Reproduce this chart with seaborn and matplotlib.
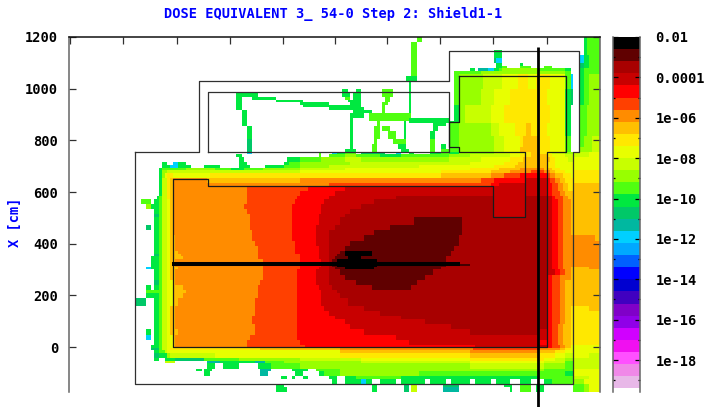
import numpy as np
import matplotlib
matplotlib.use("Agg")
import matplotlib.pyplot as plt
from matplotlib.colors import ListedColormap
import seaborn as sns

# colour bands of the scale, from the top of the colour bar down
band_keys = "abcdefghijklmnopqrstuvwxyzABC."
band_colors = ["#000000", "#600000", "#a80000", "#c80000", "#ff0000", "#ff4000",
               "#ff8c00", "#ffc000", "#ffe800", "#e8ff00", "#c8ff00", "#98ff00",
               "#50ff10", "#00e840", "#00c868", "#00b8a0", "#00d0ff", "#00a8ff",
               "#0060ff", "#0000ff", "#0000d0", "#4000c0", "#8000c8", "#9000e8",
               "#d000ff", "#f010f0", "#ff50ff", "#f088e8", "#e8b8e8", "#ffffff"]
band_top = -2.0
band_width = 0.6

# axis extent
x_start, x_stop = 69, 600
y_start, y_stop = 37, 392
cm_top, cm_bottom = 1200, -174
n_rows, n_cols = 136, 200

y_ticks_cm = [1200, 1000, 800, 600, 400, 200, 0]
x_ticks = [70, 123, 177, 230, 283, 335, 387, 440, 493, 547]
cbar_decades = [-2, -4, -6, -8, -10, -12, -14, -16, -18]
cbar_labels = ["0.01", "0.0001", "1e-06", "1e-08", "1e-10", "1e-12", "1e-14", "1e-16", "1e-18"]

# dose field: each row band ends at row_end, and each
# token is a colour band key plus the x where that run stops
row_end = [43, 51, 55, 58, 62, 66, 68, 71, 74, 77, 81, 88, 90, 93, 96, 98.5, 101, 104,
           106.5, 109, 112, 114, 117, 119.5, 122, 126, 132, 135, 138, 144, 147, 150, 152,
           155, 158, 162, 165, 168, 171, 174, 177, 179, 183, 186, 190, 195, 200, 205,
           210, 215, 217, 225, 230, 235, 240, 245, 250, 253, 256, 260, 266, 270, 275,
           280, 285, 289, 293, 298, 305, 310, 315, 320, 325, 330, 335, 340, 345, 347,
           350, 354, 358, 361, 364, 368, 372, 376, 380, 384, 388, 392]
row_runs = [
    ".416 m422 .584 n588 m600",
    ".412 m416 .584 n588 m600",
    ".412 m416 .493 n503 .584 n588 m600",
    ".412 m416 .493 n503 .580 q584 n590 m600",
    ".412 m416 .493 o497 q503 .580 q584 n590 m600",
    ".412 m416 .497 n501 .520 n524 .580 o584 n590 m600",
    ".412 m416 .497 n503 m508 .520 m530 .545 m552 .580 o584 n590 m600",
    ".412 m416 .469 n474 .478 p488 q493 n500 m503 l540 m565 n570 .580 n584 m590 m600",
    ".412 m416 .453 m480 l565 m570 n572 .580 n584 m590 m600",
    ".412 m416 .453 m459 l483 k503 j517 i527 j537 i550 j566 m570 q573 .580 n584 m590 l600",
    ".407 n417 .453 m459 l483 k503 j517 i527 j537 i550 j566 m570 q573 .580 n584 m590 l600",
    ".408 n412 .453 m459 l483 k503 j517 i527 j537 i550 j566 m570 q573 .580 n584 m590 l600",
    ".342 n348 .355 n360 .383 m392 .408 n412 .453 m459 l483 k503 j517 i527 j537 i550 j566 m570 q573 .580 n584 m590 l600",
    ".342 n348 .355 n360 .383 m392 .408 n412 .453 m459 l480 k495 j510 i548 j566 n570 o573 .580 n584 m590 l600",
    ".237 n258 .342 n350 .352 n360 .383 m392 .408 n412 .453 m459 l480 k495 j510 i548 j566 n570 o573 .580 n584 m590 l600",
    ".237 n242 .253 n277 .345 m350 .352 n360 .385 m390 .408 n412 .453 m459 l480 k495 j510 i548 j566 n570 o573 .580 n584 m590 l600",
    ".237 n242 .277 n303 .348 n360 .385 m389 .408 n412 .453 m459 l480 k495 j510 i548 j566 n570 o573 .580 n584 m590 l600",
    ".237 n242 .300 n330 .350 n362 .381 m387 .408 n412 .453 m459 l480 k495 j510 i548 j566 n570 o573 .580 n584 m590 l600",
    ".237 n242 .303 n362 .381 m386 .408 n412 .453 n459 l465 k490 j505 i550 j566 n571 .580 m586 l600",
    ".237 n242 .328 n365 .381 m386 .408 n412 .453 n459 l465 k490 j505 i550 j566 n571 .580 m586 l600",
    ".242 n246 .352 n372 .381 m385 .408 n412 .453 n459 l465 k490 j505 i550 j566 n571 .580 m586 l600",
    ".242 n246 .352 n360 .362 n380 .408 n412 .453 n459 l465 k490 j505 i550 j566 n571 .580 m586 l600",
    ".242 n246 .350 n365 .368 m412 .453 n459 l465 k490 j505 i550 j566 n571 .580 m586 l600",
    ".242 n246 .350 n354 .368 m410 n449 .453 n459 l465 k490 j505 i550 j566 n571 .580 m586 l600",
    ".242 n246 .350 n354 .376 m380 .403 n406 .408 n459 l465 k490 j505 i550 j566 n571 .580 m586 l600",
    ".242 n246 .350 n354 .376 m380 .403 n406 .433 n447 .449 m459 l490 k500 j515 i525 h530 i548 j566 n572 .580 m586 l600",
    ".246 n251 .350 n354 .375 m379 .383 m390 .403 n406 .432 n438 .449 m459 l490 k500 j515 i525 h530 i548 j566 n572 .580 m586 l600",
    ".246 n251 .350 n354 .375 m379 .388 m396 .403 n406 .430 n436 .449 m459 l490 k500 j515 i525 h530 i548 j566 n572 .580 m586 l600",
    ".246 n251 .350 n354 .375 m379 .388 m396 .403 n406 .430 n436 .449 m459 l495 k505 j520 i524 h540 i550 j566 m572 .580 m584 l592 k600",
    ".246 o251 .350 n354 .373 m378 .394 m406 .430 m435 .449 m459 l495 k505 j520 i524 h540 i550 j566 m572 .580 m584 l592 k600",
    ".246 o251 .350 n354 .371 m376 .398 n406 .430 m435 .440 n445 .449 m459 l495 k505 j520 i524 h540 i550 j566 m572 .580 m584 l592 k600",
    ".246 o251 .350 n354 .371 m376 .398 n406 .430 m435 .440 n445 .449 m459 l495 k505 j520 h540 i550 j566 m572 .580 l592 k600",
    ".246 o251 .345 n356 .371 m376 .402 n408 .430 m435 .440 m459 l495 k505 j520 h540 i550 j566 m572 .580 l592 k600",
    ".246 q251 .318 m322 .332 q337 n345 m356 .360 o385 .395 q400 .410 n415 .430 n440 m449 n459 l495 k510 j525 i530 h540 i547 j553 k566 l573 k590 j600",
    ".237 n242 .318 m322 .330 m345 l355 m380 n400 m449 l470 k510 j520 i530 h547 i553 j566 k590 j600",
    ".240 n245 .287 n300 m320 l345 k360 l449 k480 j510 i522 h550 i556 j568 k573 j600",
    ".161 n166 .172 q177 n185 .240 n248 .283 n290 m300 l350 k470 j505 i518 h547 i556 j600",
    ".161 n170 q177 n190 .205 n220 .240 n250 .265 n285 m300 l330 k420 j495 i515 h547 i556 j600",
    ".158 n162 m185 l215 m230 n245 m262 l300 k345 j470 i500 h520 g545 h552 i560 j600",
    ".158 n161 m163 l168 k300 j440 i490 h510 g530 f545 g550 h556 i565 j573 i600",
    ".158 n161 m163 l165 j168 i172 j210 i440 h490 g505 f520 e547 f550 g555 h562 i570 j573 i600",
    ".158 n161 m163 k165 i168 h172 i250 h440 g480 f495 e547 f552 g556 h563 i600",
    ".158 n161 m163 k166 i170 h173 g208 h300 g480 f495 e525 d547 e550 f555 g560 h566 i600",
    ".158 n161 m163 k166 i170 h173 g330 f490 e500 d547 e552 f557 g562 h568 i573 h600",
    ".158 n161 m163 k166 i170 h173 g246 f307 e345 d547 e552 f558 g563 h568 i573 h600",
    ".158 n161 m163 k166 i170 h173 g246 f300 e335 d547 e553 f560 g566 h600",
    ".157 n160 m163 k166 i170 h173 g246 f297 e328 d395 c493 d525 c547 d553 e556 f563 g568 h600",
    ".142 m150 .155 n160 m163 k166 j170 h173 g246 f295 e325 d375 c493 d525 c547 d553 e558 f563 g570 h600",
    ".147 l152 n160 m163 k166 j170 h173 g243 f293 e322 d360 c493 d525 c547 d553 e558 f563 g570 h600",
    ".153 n158 m162 k166 j170 h173 g247 f293 e320 d350 c493 d525 c547 d553 e558 f563 g570 h600",
    ".155 o160 m163 k166 j170 h173 g250 f292 e318 d345 c493 d525 c547 d553 e558 f564 g570 h600",
    ".155 n159 m163 k166 j170 h173 g250 f292 e318 d340 c415 b463 c547 d553 e558 f564 g570 h600",
    ".146 o151 .155 n160 m163 k166 j170 h173 g250 f292 e316 d335 c390 b463 c547 d553 e558 f564 g572 h600",
    ".153 n158 m163 k166 j170 h173 g252 f292 e316 d330 c375 b463 c547 d553 e558 f564 g572 h600",
    ".154 n158 m163 k166 j170 h175 g252 f292 e316 d328 c365 b460 c547 d553 e558 f564 g595 h600",
    ".153 n158 m163 k166 j170 h175 g255 f296 e317 d328 c350 b458 c547 d553 e558 f563 g600",
    ".155 n159 m163 k166 j170 h175 g257 f296 e318 d328 c345 b455 c547 d553 e558 f563 g600",
    ".155 n159 m163 k166 j170 h178 g258 f296 e318 d328 c340 b345 a372 b452 c547 d553 e558 f563 g600",
    ".153 o158 m163 k166 j170 h180 g258 f300 e318 d328 c336 b345 a372 b450 c547 d553 e558 f563 g600",
    ".152 n158 m163 k166 j170 h182 g258 f300 e318 d328 c334 b347 a362 b447 c547 d553 e558 f563 g600",
    ".152 n158 m163 k166 j170 h175 g262 f300 e320 d328 c332 b338 a377 b445 c547 d553 e558 f564 g600",
    ".145 q151 n158 m163 k166 j170 h178 g262 f300 e318 d328 c335 b345 a375 b440 c547 d553 e558 f563 g572 h590 g600",
    ".155 n160 m163 k166 j170 h175 g262 f298 e317 d330 c340 b432 c547 d555 e560 f566 g572 h600",
    ".155 n160 m163 k166 j170 h175 g262 f298 e317 d330 c345 b425 c547 e553 f561 g572 h600",
    ".155 o158 m163 k166 j172 h176 g260 f298 e317 d330 c355 b418 c547 e553 f561 g566 h600",
    ".145 n150 .155 n160 m163 k166 j172 h182 g258 f298 e318 d333 c372 b412 c547 e553 f561 g566 h600",
    ".145 m158 m163 k166 j172 h185 g258 f298 e320 d337 c547 e553 f560 g565 h600",
    ".145 n158 m163 k166 j172 h182 g257 f298 e320 d340 c547 e553 f560 g565 h600",
    ".135 o145 .153 n158 m163 k166 j172 h178 g255 f298 e322 d348 c547 e553 f560 g565 h600",
    ".153 n158 m163 k166 j170 h176 g255 f297 e325 d365 c547 e553 f560 g565 h572 i590 h600",
    ".153 n158 m163 k166 j170 h175 g255 f297 e328 d380 c547 e553 f560 g565 h572 i600",
    ".155 n160 m163 k166 j170 h175 g252 f297 e335 d400 c547 e553 f560 g565 h572 i600",
    ".153 n158 m163 k166 j170 h175 g252 f297 e345 d425 c547 e553 f560 g565 h572 i600",
    ".155 n160 m163 k166 j170 h175 g255 f297 e350 d450 c547 e553 f558 g563 h572 i600",
    ".145 n152 .155 n160 m163 k166 j170 h178 g255 f297 e365 d470 c540 d547 e553 f558 g563 h572 i600",
    ".146 q150 .155 n160 m163 k166 j172 h176 g250 f298 e395 d547 e553 f558 g563 h572 i600",
    ".155 n160 m163 k166 j172 h176 g246 f300 e410 d540 e553 f558 g563 h572 i600",
    ".152 n158 m163 k166 j172 h175 g246 f305 e475 d547 e553 f560 g565 h572 j600",
    ".152 o160 m163 k166 j170 i260 h340 g473 f540 g560 h566 i572 j600",
    ".155 n160 m164 k167 j340 i340 h470 g540 h556 i566 j600",
    ".155 o160 n166 l170 k215 j340 i470 h540 i556 j566 k573 j590 k600",
    ".153 n158 .165 n175 o205 m240 l300 k360 j470 i545 j556 k566 l573 k600",
    ".165 k175 .207 p220 n255 p265 m285 l360 k470 j545 k566 m573 k600",
    ".207 n215 .222 n240 .257 n270 m300 l470 k545 l566 m573 k600",
    ".197 n202 .205 n212 .260 p270 .293 n307 .315 m340 l545 m573 j600",
    ".205 n211 .260 p268 .295 n303 .318 n325 m340 l420 m540 m566 n573 j600",
    ".282 n287 .292 n296 .303 n308 .330 n338 .345 n355 m400 n540 m573 k590 j600",
    ".331 n338 .345 n360 q366 n372 .380 n395 .400 n425 .430 n445 .450 n470 .475 n490 .497 n510 .520 n530 .545 n552 m573 l585 j600",
    ".277 n283 .372 n376 .403 o408 .412 k418 .443 o458 .505 n513 .520 m530 .535 n545 .573 m583 l590 j600",
    ".277 n287 .372 n376 .403 o408 .412 k418 .443 p458 .510 n513 .520 m530 .535 n545 .573 m583 l590 j600",
]

# geometry outlines, same picture units as the runs above
shell_x = [135, 199, 199, 449, 449, 579, 579, 573, 573, 135, 135]
shell_y = [152, 152, 81, 81, 51, 51, 152, 152, 384, 384, 152]
room_x = [208, 208, 449, 449, 208]
room_y = [152, 92, 92, 152, 152]
vessel_x = [459, 566, 566, 547, 547, 173, 173, 208, 208, 493, 493, 525, 525, 459, 459, 449, 449, 459, 459]
vessel_y = [76, 76, 152, 152, 347, 347, 179, 179, 186, 186, 217, 217, 152, 152, 147, 147, 122, 122, 76]
beam_x = [172, 460]
beam_y = [264, 264]
beam_end_x = [460, 470]
beam_end_y = [265, 265]
track_x = [538, 538]
track_y = [47, 407]

cell_w = (x_stop - x_start) / n_cols
cell_h = (y_stop - y_start) / n_rows


def to_col(x):
    return (np.asarray(x, dtype=float) - x_start) / cell_w


def to_row(y):
    return (np.asarray(y, dtype=float) - y_start) / cell_h


def band_value(key):
    idx = band_keys.index(key)
    if key == ".":
        return np.nan
    return band_top - band_width * (idx + 0.5)


def decode_field():
    field = np.full((n_rows, n_cols), np.nan)
    for r in range(n_rows):
        yc = y_start + (r + 0.5) * cell_h
        k = min(int(np.searchsorted(row_end, yc)), len(row_runs) - 1)
        c0 = 0
        for tok in row_runs[k].split():
            c1 = int(round(to_col(float(tok[1:]))))
            field[r, c0:c1] = band_value(tok[0])
            c0 = max(c0, c1)
    return field


plt.rcParams["font.family"] = ["DejaVu Sans Mono"]
plt.rcParams["font.weight"] = "bold"
plt.rcParams["font.size"] = 9.85

W, H = 713, 407
fig = plt.figure(figsize=(W / 100, H / 100), dpi=100, facecolor="white")
ax = fig.add_axes([x_start / W, 1 - y_stop / H, (x_stop - x_start) / W, (y_stop - y_start) / H])
cax = fig.add_axes([613 / W, 1 - y_stop / H, 27 / W, (y_stop - y_start) / H])

cmap = ListedColormap(band_colors[::-1])
vmin = band_top - band_width * len(band_colors)
sns.heatmap(decode_field(), ax=ax, cbar_ax=cax, cmap=cmap, vmin=vmin, vmax=band_top,
            xticklabels=False, yticklabels=False)

# outlines
ax.plot(to_col(shell_x), to_row(shell_y), color="#303030", lw=0.9)
ax.plot(to_col(room_x), to_row(room_y), color="#303030", lw=0.9)
ax.plot(to_col(vessel_x), to_row(vessel_y), color="#1a1a1a", lw=0.9)
ax.plot(to_col(beam_x), to_row(beam_y), color="black", lw=2.9, solid_capstyle="butt")
ax.plot(to_col(beam_end_x), to_row(beam_end_y), color="#300000", lw=1.2, solid_capstyle="butt")
ax.plot(to_col(track_x), to_row(track_y), color="black", lw=2.0, clip_on=False, solid_capstyle="butt")

# axes
ax.set_xlim(0, n_cols)
ax.set_ylim(n_rows, 0)
y_tick_rows = [(cm_top - v) / (cm_top - cm_bottom) * n_rows for v in y_ticks_cm]
ax.set_yticks(y_tick_rows)
ax.set_yticklabels([str(v) for v in y_ticks_cm], color="black")
ax.tick_params(axis="y", left=True, right=True, direction="in", length=5, width=0.9, pad=8, color="#303030")
ax.set_xticks(to_col(x_ticks))
ax.set_xticklabels([])
ax.tick_params(axis="x", top=True, bottom=True, direction="in", length=5, width=0.9, color="#303030")
ax.set_xticks(to_col(x_ticks), minor=True)
ax.tick_params(axis="x", which="major", bottom=False)
ax.tick_params(axis="x", which="minor", bottom=True, top=False, direction="out", length=1, width=0.8)
for side, col in (("left", "#666666"), ("right", "#666666"), ("top", "#111111")):
    ax.spines[side].set_visible(True)
    ax.spines[side].set_color(col)
    ax.spines[side].set_linewidth(1.1)
ax.spines["bottom"].set_visible(False)

# colour bar
cax.set_ylim(band_top - (y_stop - y_start) / 20.19, band_top)
cax.set_yticks(cbar_decades)
cax.set_yticklabels(cbar_labels)
cax.set_yticks([d - 1 for d in cbar_decades], minor=True)
cax.tick_params(axis="y", which="major", left=True, right=True, direction="in", length=3.5, width=0.9, pad=11)
cax.tick_params(axis="y", which="minor", left=True, right=True, direction="in", length=1.5, width=0.9)
for side in ("left", "right"):
    cax.spines[side].set_visible(True)
    cax.spines[side].set_color("#666666")
    cax.spines[side].set_linewidth(1.1)

fig.text(333 / W, 1 - 14 / H, "DOSE EQUIVALENT 3_ 54-0 Step 2: Shield1-1", color="#0000ff",
         ha="center", va="center")
fig.text(15 / W, 1 - 222 / H, "X [cm]", color="#0000ff", rotation=90, ha="center", va="center")

fig.savefig("out.png", dpi=100)
